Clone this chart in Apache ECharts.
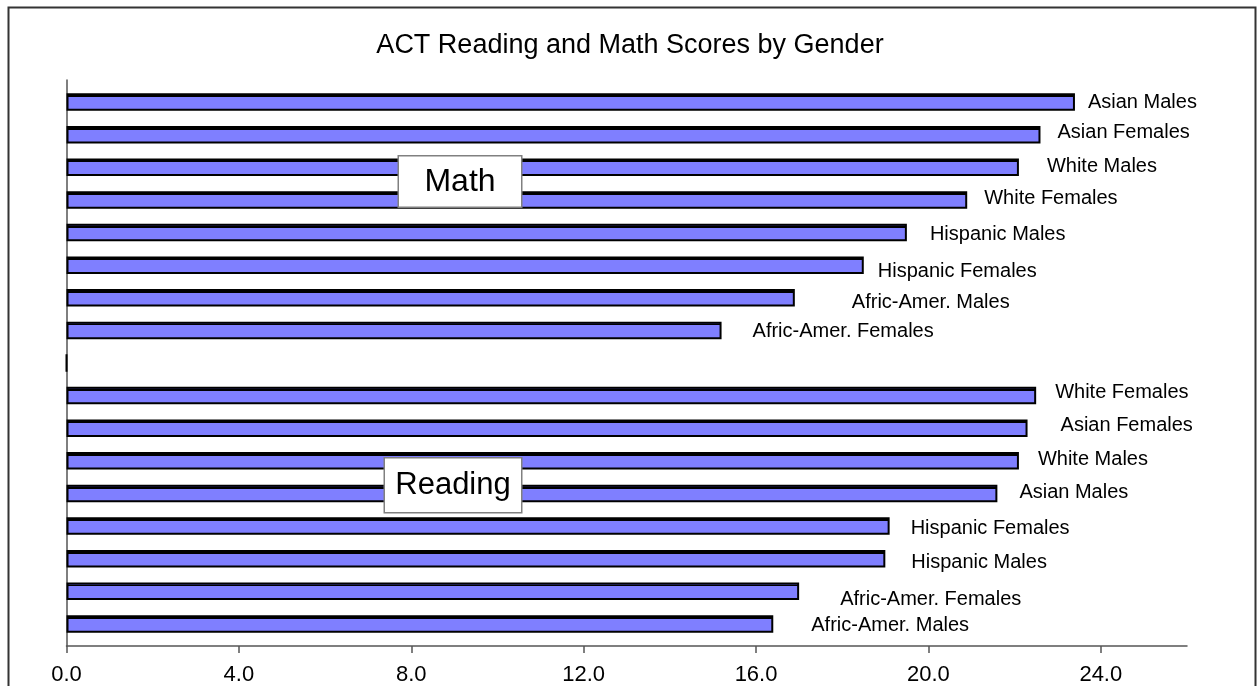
<!DOCTYPE html>
<html>
<head>
<meta charset="utf-8">
<script src="https://cdn.jsdelivr.net/npm/echarts@6/dist/echarts.min.js"></script>
<style>
html,body{margin:0;padding:0;background:#fff;}
#c{width:1260px;height:686px;}
</style>
</head>
<body>
<div id="c"></div>
<script>
const titleText = 'ACT Reading and Math Scores by Gender';
const mathGroups = ['Asian Males','Asian Females','White Males','White Females','Hispanic Males','Hispanic Females','Afric-Amer. Males','Afric-Amer. Females'];
const mathScores = [23.4, 22.6, 22.1, 20.9, 19.5, 18.5, 16.9, 15.2];
const readingGroups = ['White Females','Asian Females','White Males','Asian Males','Hispanic Females','Hispanic Males','Afric-Amer. Females','Afric-Amer. Males'];
const readingScores = [22.5, 22.3, 22.1, 21.6, 19.1, 19.0, 17.0, 16.4];
const sectionNames = ['Math', 'Reading'];
const xTicks = [0, 4, 8, 12, 16, 20, 24];

// label nudges (layout only)
const mathLabelNudge = [[13,0],[17,-2],[28,-1],[17,-1],[23,2],[14,6],[57,5],[31,1]];
const readingLabelNudge = [[19,-3],[33,-3],[19,-1],[22,-1],[21,2],[26,4],[41,8],[38,1]];

const categories = mathGroups.concat([''], readingGroups);
const values = mathScores.concat([0], readingScores);
const nudges = mathLabelNudge.concat([[0,0]], readingLabelNudge);

const barFill = new echarts.graphic.LinearGradient(0, 0, 0, 1, [
  {offset: 0, color: '#3a3a99'},
  {offset: 0.11, color: '#3a3a99'},
  {offset: 0.11, color: '#000000'},
  {offset: 0.22, color: '#000000'},
  {offset: 0.22, color: '#7f7fff'},
  {offset: 1, color: '#7f7fff'}
]);

const FONT = 'Liberation Sans, Arial, sans-serif';

const chart = echarts.init(document.getElementById('c'), null, {renderer: 'canvas'});
chart.setOption({
  animation: false,
  backgroundColor: '#fff',
  title: {
    text: titleText,
    left: 'center',
    top: 27,
    textStyle: {fontFamily: FONT, fontSize: 27, fontWeight: 'normal', color: '#000'}
  },
  grid: [
    {left: 66.5, right: 73, top: 80, bottom: 40, containLabel: false},
    {left: 66.5, right: 73, top: 85.7, bottom: 45.7, containLabel: false}
  ],
  xAxis: [
    {
      gridIndex: 0, type: 'value', min: xTicks[0], max: 26, interval: xTicks[1] - xTicks[0],
      axisLine: {show: true, lineStyle: {color: '#555', width: 1.5}},
      axisTick: {show: true, length: 7, lineStyle: {color: '#555', width: 1.5}},
      axisLabel: {
        show: true, margin: 18, fontFamily: FONT, fontSize: 22, color: '#000',
        formatter: v => (xTicks.indexOf(v) >= 0 ? v.toFixed(1) : ''),
        showMaxLabel: false
      },
      splitLine: {show: false}
    },
    {gridIndex: 1, type: 'value', min: 0, max: 26, show: false}
  ],
  yAxis: [
    {
      gridIndex: 0, type: 'value', min: 0, max: 1,
      axisLine: {show: true, lineStyle: {color: '#555', width: 1.5}},
      axisTick: {show: false}, axisLabel: {show: false}, splitLine: {show: false}
    },
    {gridIndex: 1, type: 'category', data: categories, inverse: true, show: false}
  ],
  series: [{
    type: 'bar',
    xAxisIndex: 1,
    yAxisIndex: 1,
    data: values.map((v, i) => ({
      value: v,
      label: {offset: nudges[i]}
    })),
    barWidth: 17.5,
    itemStyle: {color: barFill, borderColor: '#000', borderWidth: 2},
    label: {
      show: true,
      position: 'right',
      distance: 0,
      fontFamily: FONT,
      fontSize: 20,
      color: '#000',
      formatter: p => p.name
    },
    emphasis: {disabled: true}
  }],
  graphic: [
    {
      type: 'rect', left: 6, top: 5, silent: true, z: 100,
      shape: {width: 1247, height: 720},
      style: {fill: 'none', stroke: '#333', lineWidth: 2}
    },
    {
      type: 'group', left: 397.5, top: 155, z: 100,
      children: [
        {type: 'rect', z: 100, shape: {x: 0, y: 0, width: 123.5, height: 51.5},
         style: {fill: '#fff', stroke: '#808080', lineWidth: 1.5}},
        {type: 'text', z: 101, x: 61.75, y: 26, style: {text: sectionNames[0], font: '32px ' + FONT, fill: '#000', align: 'center', verticalAlign: 'middle'}}
      ]
    },
    {
      type: 'group', left: 383.5, top: 457, z: 100,
      children: [
        {type: 'rect', z: 100, shape: {x: 0, y: 0, width: 137.5, height: 55},
         style: {fill: '#fff', stroke: '#808080', lineWidth: 1.5}},
        {type: 'text', z: 101, x: 68.75, y: 28, style: {text: sectionNames[1], font: '31px ' + FONT, fill: '#000', align: 'center', verticalAlign: 'middle'}}
      ]
    }
  ]
});
</script>
</body>
</html>
